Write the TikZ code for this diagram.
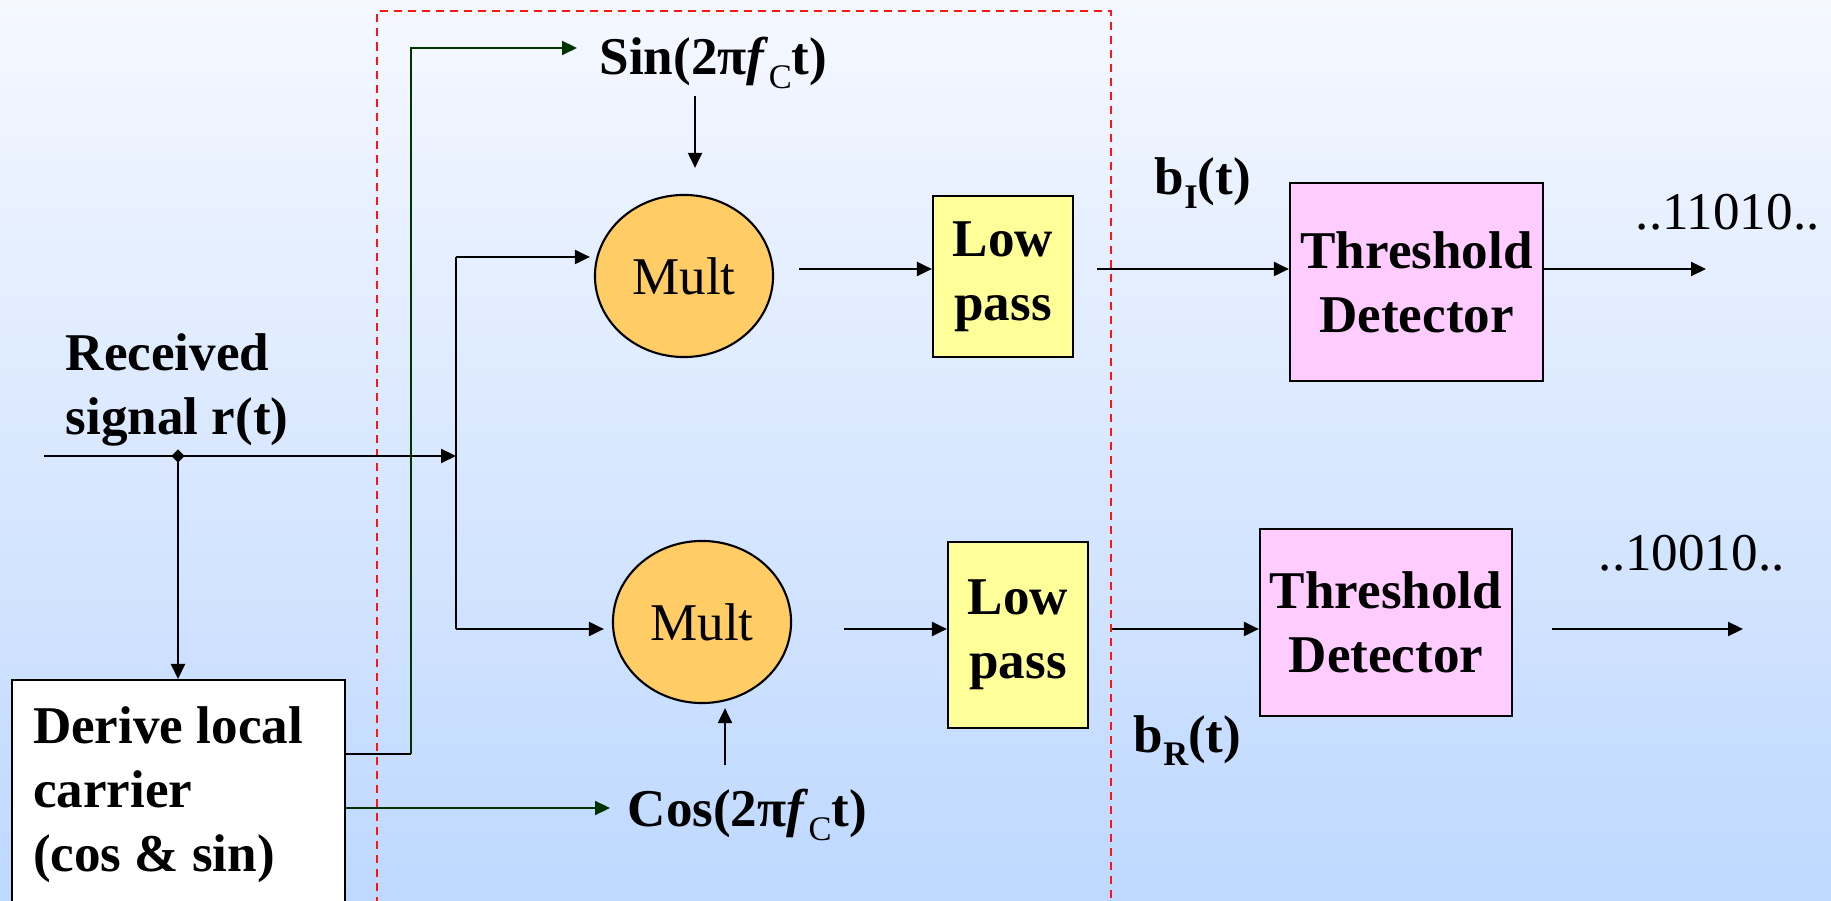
\documentclass[tikz,border=0pt]{standalone}
\usepackage{fontspec}
\setmainfont{Liberation Serif}
\usetikzlibrary{arrows.meta,shapes.geometric,calc}
\definecolor{bgtop}{RGB}{245,248,255}
\definecolor{bgbot}{RGB}{190,216,255}
\definecolor{multfill}{RGB}{255,204,102}
\definecolor{lpfill}{RGB}{255,255,153}
\definecolor{tdfill}{RGB}{255,204,255}
\definecolor{carrier}{RGB}{0,51,0}
\definecolor{dashred}{RGB}{255,20,20}
% lowered, smaller index (f_C, b_I, b_R)
\newcommand\lowidx[1]{\raisebox{-0.25em}{\fontsize{9.8}{10}\selectfont #1}}

\begin{document}
\begin{tikzpicture}[x=0.01cm,y=-0.01cm,
  txt/.style={font=\fontsize{15.1}{18.2}\selectfont},
  lbl/.style={font=\fontsize{15.1}{18.2}\selectfont\bfseries, inner sep=0pt},
  plainlbl/.style={txt, inner sep=0pt},
  wire/.style={line width=0.6pt, draw=black},
  tip/.style={-{Triangle[length=0.15cm,width=0.14cm]}},
  arr/.style={wire, tip},
  gwire/.style={line width=0.6pt, draw=carrier},
  garr/.style={gwire, tip},
  dashbox/.style={line width=0.55pt, draw=dashred, dash pattern=on 0.08cm off 0.06cm},
  mult/.style={txt, ellipse, draw, line width=0.6pt, fill=multfill, inner sep=0pt,
    minimum width=1.78cm, minimum height=1.62cm},
  lowpass/.style={lbl, draw, line width=0.6pt, fill=lpfill, align=center,
    minimum width=1.40cm},
  detector/.style={lbl, draw, line width=0.6pt, fill=tdfill, align=center,
    minimum width=2.53cm},
  carrierbox/.style={lbl, draw, line width=0.6pt, fill=white, align=flush left,
    anchor=north west, text width=2.91cm, inner xsep=0.21cm, inner ysep=0.27cm}
]
\useasboundingbox (0,0) rectangle (1831,901);
% background
\fill[top color=bgtop, bottom color=bgbot] (0,0) rectangle (1831,901);

% coherent demodulator boundary
\draw[dashbox] (377,905) -- (377,11) -- (1111,11) -- (1111,905);

% blocks
\node[mult] (m1) at (684,276) {Mult};
\node[mult] (m2) at (702,622) {Mult};
\node[lowpass, minimum height=1.61cm] (lp1) at (1003,276.5) {Low\\pass};
\node[lowpass, minimum height=1.86cm] (lp2) at (1018,635) {Low\\pass};
\node[detector, minimum height=1.98cm] (td1) at (1416.5,282) {Threshold\\Detector};
\node[detector, minimum height=1.87cm, minimum width=2.52cm] (td2) at (1386,622.5) {Threshold\\Detector};
\node[carrierbox] (dlc) at (11,679) {Derive local\\carrier\\(cos \& sin)};

% labels
\node[lbl, anchor=base west] (sinlbl) at (599,75) {Sin(2π\textit{f}\lowidx{\mdseries C}t)};
\node[lbl, anchor=base west] (coslbl) at (627,827) {Cos(2π\textit{f}\lowidx{\mdseries C}t)};
\node[lbl, anchor=base west] (bilbl) at (1154,195) {b\lowidx{I}(t)};
\node[lbl, anchor=base west] (brlbl) at (1133,752) {b\lowidx{R}(t)};
\node[plainlbl, anchor=base west] (bitsI) at (1635,230) {..11010..};
\node[plainlbl, anchor=base west] (bitsQ) at (1598,571) {..10010..};
\node[lbl, anchor=north west, align=left] (rxlbl) at (65,333) {Received\\signal r(t)};

% received signal and split point
\coordinate (rin) at (44,456);
\node[diamond, fill=black, inner sep=0pt, minimum size=0.14cm] (split) at (178,456) {};
\coordinate (bus) at (456,456);
\coordinate (busI) at (456,257);
\coordinate (busQ) at (456,629);
\draw[arr] (rin) -- (bus);
\draw[arr] (split.center) -- (split.center |- dlc.north);
\draw[wire] (busI) -- (busQ);
\draw[arr, shorten >=0.04cm] (busI) -- (busI -| m1.west);
\draw[arr, shorten >=0.08cm] (busQ) -- (busQ -| m2.west);

% local carriers
\coordinate (sinA) at (695,96);
\coordinate (cosA) at (725,765);
\coordinate (sinIn) at (577,48);
\coordinate (cosIn) at (610,808);
\coordinate (riser) at (411,754);
\draw[arr] (sinA) -- ($(sinA |- m1.north)+(0,-26)$);
\draw[arr, shorten >=0.04cm] (cosA) -- (cosA |- m2.south);
\draw[wire] ($(dlc.north east)+(0,75)$) -- (riser);
\draw[garr] (riser) -- (riser |- sinIn) -- (sinIn);
\draw[garr] ($(dlc.north east)+(0,129)$) -- (cosIn);

% in-phase branch
\coordinate (yI) at (0,269);
\coordinate (outI) at (1706,269);
\draw[arr] ($(m1.east |- yI)+(25,0)$) -- (lp1.west |- yI);
\draw[arr] ($(lp1.east |- yI)+(23,0)$) -- (td1.west |- yI);
\draw[arr] (td1.east |- yI) -- (outI);

% quadrature branch
\coordinate (yQ) at (0,629);
\coordinate (outQ) at (1743,629);
\draw[arr] ($(m2.east |- yQ)+(52,0)$) -- (lp2.west |- yQ);
\draw[arr] ($(lp2.east |- yQ)+(23,0)$) -- (td2.west |- yQ);
\draw[arr] ($(td2.east |- yQ)+(39,0)$) -- (outQ);
\end{tikzpicture}
\end{document}
